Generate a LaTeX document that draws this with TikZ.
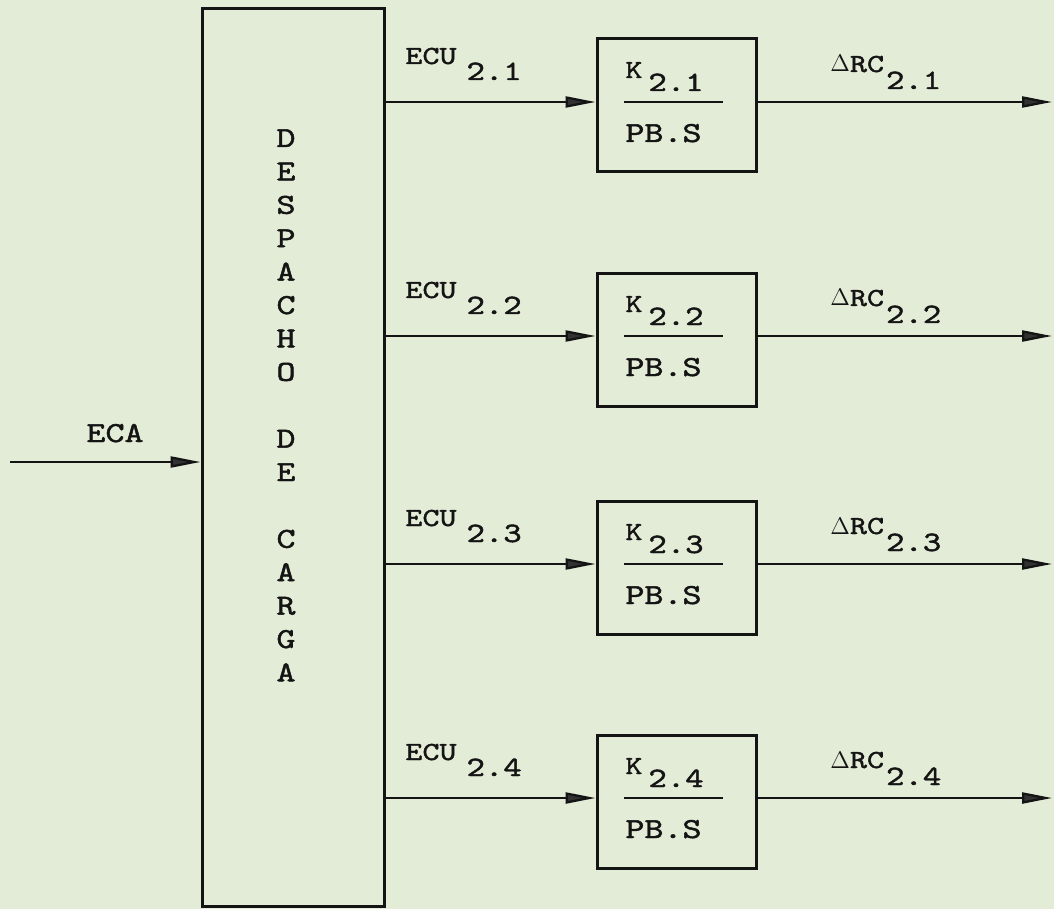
\documentclass[tikz,border=0pt]{standalone}
\usepackage{fontspec}
\newfontfamily\tw{lmmono10-regular.otf}[FakeStretch=1.25,FakeBold=1.6]
\usetikzlibrary{arrows.meta}
\definecolor{paper}{RGB}{227,236,214}
\definecolor{ink}{RGB}{20,20,20}
\definecolor{tipc}{RGB}{50,50,50}
\newcommand\fmain{\tw\fontsize{14.5}{16}\selectfont}
\newcommand\fk{\tw\fontsize{13}{15}\selectfont}
\newcommand\fd{\tw\fontsize{13}{15}\selectfont}
\newcommand\fs{\tw\fontsize{14}{16}\selectfont}
\begin{document}
\begin{tikzpicture}[x=0.5pt,y=-0.5pt,
  bigbox/.style={draw=ink, line width=1.5pt, inner sep=0pt, minimum width=91pt, minimum height=448.5pt},
  kbox/.style={draw=ink, line width=1.5pt, inner sep=0pt, minimum width=79.5pt, minimum height=66.5pt},
  conn/.style={draw=ink, line width=1.15pt, -{Triangle[length=15pt,width=5.5pt,fill=tipc]}},
  frac/.style={draw=ink, line width=1.15pt},
  lab/.style={text=ink, inner sep=0pt, anchor=base west, font=\fmain},
  letter/.style={text=ink, inner sep=0pt, anchor=base, font=\fmain}]
\useasboundingbox (0,0) rectangle (1054,909);
\fill[paper] (0,0) rectangle (1054,909);
% central dispatch box
\node[bigbox] (desp) at (293,457.5) {};
\foreach \c [count=\i from 0] in {D,E,S,P,A,C,H,O}
  \node[letter] (la\i) at (286,{147+33.4*\i}) {\c};
\foreach \c [count=\i from 9] in {D,E}
  \node[letter] (lb\i) at (286,{147+33.4*\i}) {\c};
\foreach \c [count=\i from 12] in {C,A,R,G,A}
  \node[letter] (lc\i) at (286,{147+33.4*\i}) {\c};
% input
\coordinate (ecain) at (10,462);
\draw[conn] (ecain) -- (ecain -| desp.west);
\node[letter] (eca) at (115,442) {ECA};
% rows
\foreach \r/\L in {1/102,2/336,3/564,4/798}{
  \node[kbox] (k\r) at (676.5,{\L+3.5}) {};
  \coordinate (i\r) at (676.5,\L);
  \coordinate (o\r) at (1052,\L);
  \draw[conn] (desp.east |- i\r) -- (k\r.west |- i\r);
  \draw[conn] (k\r.east |- o\r) -- (o\r);
  \draw[frac] (624,\L) -- (723,\L);
  \node[lab, font=\fk] (kt\r) at (625,{\L-24}) {K\hspace{3pt}\raisebox{-6.5pt}{\fs 2.\r}};
  \node[lab] (pb\r) at (625,{\L+40}) {PB.S};
  \node[lab, font=\fk] (ecu\r) at (405,{\L-38}) {ECU\hspace{5pt}\raisebox{-8pt}{\fs 2.\r}};
  \node[lab, font=\fd] (rc\r) at (830,{\L-30}) {$\Delta$RC\hspace{1pt}\raisebox{-8.5pt}{\fs 2.\r}};
}
\end{tikzpicture}
\end{document}
